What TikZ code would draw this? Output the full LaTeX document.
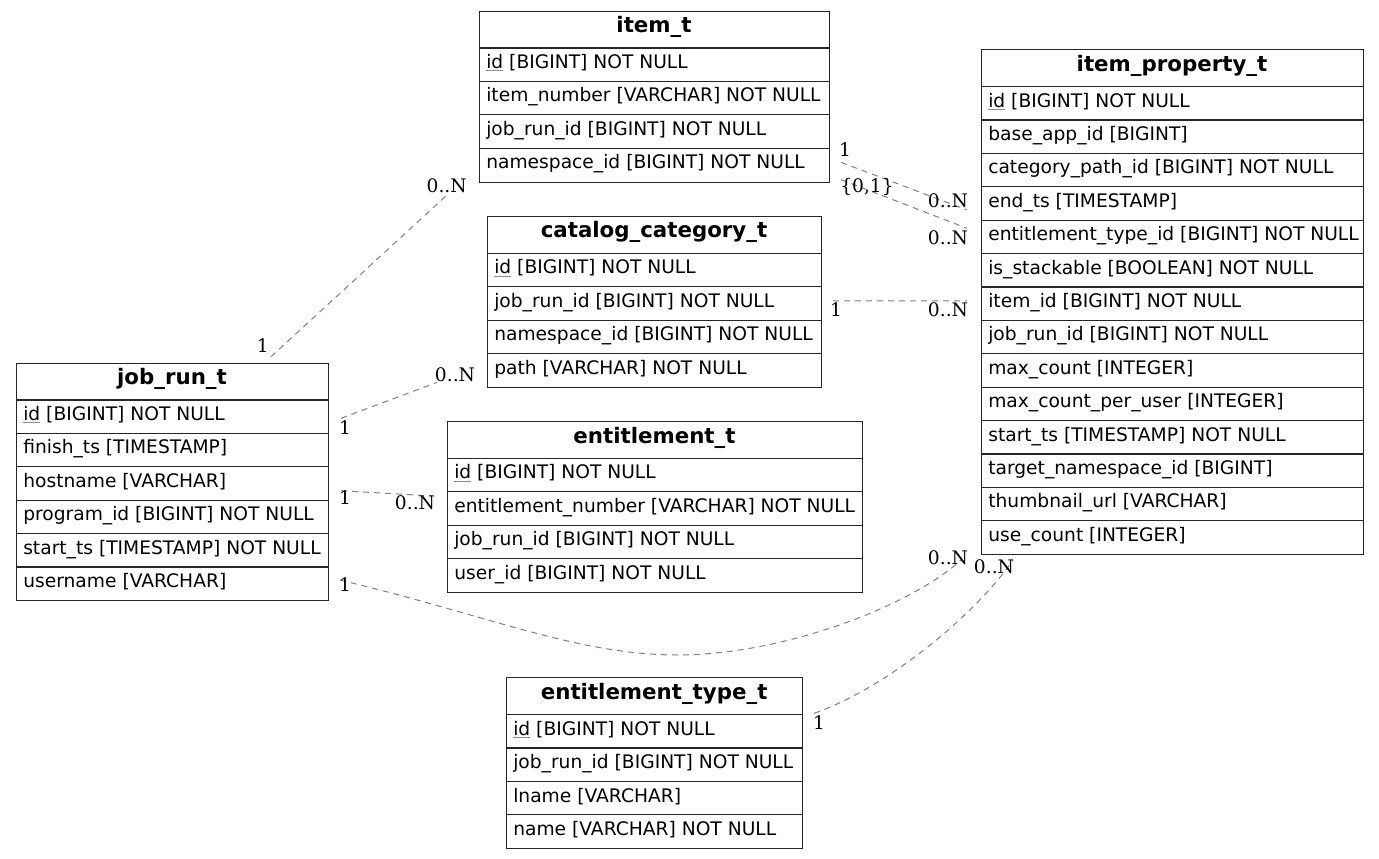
\documentclass[tikz,border=0pt]{standalone}
\usepackage{fontspec}
\setmainfont{DejaVu Sans}
\newfontfamily\lblfont{DejaVu Serif}
\usetikzlibrary{calc}
\tikzset{
 tblbox/.style={draw=black!85, line width=0.8pt, rectangle, inner sep=0pt, anchor=north west},
 rowsep/.style={draw=black!85, line width=0.8pt},
 hdrtxt/.style={font=\fontsize{16}{18}\selectfont\bfseries, anchor=base, inner sep=0pt},
 rowtxt/.style={font=\fontsize{14}{16}\selectfont, anchor=base west, inner sep=0pt},
 rel/.style={draw=black!50, line width=0.75pt, dash pattern=on 4.5pt off 3.75pt},
 card/.style={font=\lblfont\fontsize{14}{16}\selectfont, inner sep=0pt, anchor=center},
}
\newcommand\pkid{\textcolor{black!45}{\underline{\textcolor{black}{id}}}}
\newcommand\erdtbl[7]{%
 \node[tblbox, minimum width={(#4-#2)*0.75pt}, minimum height={(37.3+#6*33.4)*0.75pt}] (#1) at (#2,#3) {};
 \node[hdrtxt] (#1-h) at ({(#2+#4)/2},{#3+22}) {#5};
 \draw[rowsep] (#2,{#3+37.3}) -- (#4,{#3+37.3});
 \foreach \t [count=\i] in {#7} {
   \node[rowtxt] (#1-\i) at ({#2+7},{#3+37.3+(\i-1)*33.4+20.6}) {\t};
   \ifnum\i<#6 \draw[rowsep] (#2,{#3+37.3+\i*33.4}) -- (#4,{#3+37.3+\i*33.4});\fi
 }
}
\begin{document}
\begin{tikzpicture}[x=0.75pt,y=-0.75pt]
\useasboundingbox (0,0) rectangle (1379,859);

\erdtbl{itemt}{479}{10.7}{829}{item\_t}{4}{\pkid{} [BIGINT] NOT NULL, item\_number [VARCHAR] NOT NULL, job\_run\_id [BIGINT] NOT NULL, namespace\_id [BIGINT] NOT NULL}
\erdtbl{catalog}{487}{216}{821}{catalog\_category\_t}{4}{\pkid{} [BIGINT] NOT NULL, job\_run\_id [BIGINT] NOT NULL, namespace\_id [BIGINT] NOT NULL, path [VARCHAR] NOT NULL}
\erdtbl{itemprop}{981}{49.3}{1363}{item\_property\_t}{14}{\pkid{} [BIGINT] NOT NULL, base\_app\_id [BIGINT], category\_path\_id [BIGINT] NOT NULL, end\_ts [TIMESTAMP], entitlement\_type\_id [BIGINT] NOT NULL, is\_stackable [BOOLEAN] NOT NULL, item\_id [BIGINT] NOT NULL, job\_run\_id [BIGINT] NOT NULL, max\_count [INTEGER], max\_count\_per\_user [INTEGER], start\_ts [TIMESTAMP] NOT NULL, target\_namespace\_id [BIGINT], thumbnail\_url [VARCHAR], use\_count [INTEGER]}
\erdtbl{jobrun}{16}{362.7}{328}{job\_run\_t}{6}{\pkid{} [BIGINT] NOT NULL, finish\_ts [TIMESTAMP], hostname [VARCHAR], program\_id [BIGINT] NOT NULL, start\_ts [TIMESTAMP] NOT NULL, username [VARCHAR]}
\erdtbl{entit}{447}{421}{862}{entitlement\_t}{4}{\pkid{} [BIGINT] NOT NULL, entitlement\_number [VARCHAR] NOT NULL, job\_run\_id [BIGINT] NOT NULL, user\_id [BIGINT] NOT NULL}
\erdtbl{enttype}{506}{677.3}{802.3}{entitlement\_type\_t}{4}{\pkid{} [BIGINT] NOT NULL, job\_run\_id [BIGINT] NOT NULL, lname [VARCHAR], name [VARCHAR] NOT NULL}

% connectors
\draw[rel] ($(jobrun.north west)+(255,-6)$) -- ($(itemt.south west)+(-30,10.5)$);
\draw[rel] ($(jobrun.north east)+(12,55.6)$) -- ($(catalog.south west)+(-50,-5.6)$);
\draw[rel] ($(jobrun.north east)+(12,128)$) -- ($(entit.north west)+(-15,75)$);
\draw[rel] ($(jobrun.south east)+(11,-21.4)$) .. controls +(150,36) and +(-100,0) .. (678,655)
   .. controls +(100,0) and +(-55,50) .. ($(itemprop.south west)+(-19,4)$);
\draw[rel] ($(enttype.north east)+(10.7,36)$) .. controls +(67,-23) and +(-43,61) .. ($(itemprop.south west)+(32,5)$);
\draw[rel] ($(itemt.south east)+(11,-20.3)$) -- ($(itemprop.north west)+(-14,160.7)$);
\draw[rel] ($(itemt.south east)+(11,-3)$) -- ($(itemprop.north west)+(-14,179)$);
\draw[rel] ($(catalog.north east)+(11,85)$) -- ($(itemprop.north west)+(-14,251.7)$);

% cardinality labels
\node[card] (c1a) at (262.7,346) {1};
\node[card] (c1b) at (446.7,185.5) {0..N};
\node[card] (c2a) at (345,427.5) {1};
\node[card] (c2b) at (455,375) {0..N};
\node[card] (c3a) at (345,498) {1};
\node[card] (c3b) at (415,503) {0..N};
\node[card] (c4a) at (345,585) {1};
\node[card] (c4b) at (948,558) {0..N};
\node[card] (c5a) at (819,723) {1};
\node[card] (c5b) at (994,567) {0..N};
\node[card] (c6a) at (845,149.5) {1};
\node[card] (c6b) at (948,200.5) {0..N};
\node[card] (c7a) at (867,187) {\{0,1\}};
\node[card] (c7b) at (948,237.5) {0..N};
\node[card] (c8a) at (836,310) {1};
\node[card] (c8b) at (948,310) {0..N};
\end{tikzpicture}
\end{document}
